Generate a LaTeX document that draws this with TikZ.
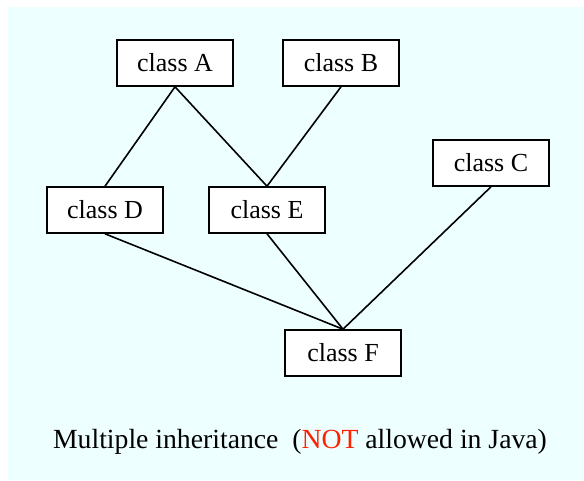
\documentclass[tikz,border=0pt]{standalone}
\usepackage{fontspec}
\setmainfont{Liberation Serif}
\definecolor{bgc}{HTML}{EEFFFF}
\definecolor{redtxt}{HTML}{FF2200}
\begin{document}
\begin{tikzpicture}[x=1pt,y=-1pt,
  cls/.style={draw=black,line width=1.6pt,fill=white,minimum width=116pt,minimum height=46pt,inner sep=0pt,font=\fontsize{26}{30}\selectfont},
  link/.style={line width=1.6pt}]
\useasboundingbox (0,0) rectangle (584,480);
\fill[bgc] (8,7) rectangle (584,480);
\node[cls] (A) at (175,63) {class A};
\node[cls] (B) at (341,63) {class B};
\node[cls] (C) at (491,163) {class C};
\node[cls] (D) at (105,210) {class D};
\node[cls] (E) at (267,210) {class E};
\node[cls] (F) at (343,353) {class F};
\draw[link] (A.south) -- (D.north);
\draw[link] (A.south) -- (E.north);
\draw[link] (B.south) -- (E.north);
\draw[link] (D.south) -- (F.north);
\draw[link] (E.south) -- (F.north);
\draw[link] (C.south) -- (F.north);
\node[anchor=base,inner sep=0pt,font=\fontsize{27.7}{32}\selectfont] (cap) at (300,448) {Multiple inheritance\ \ (\textcolor{redtxt}{NOT} allowed in Java)};
\end{tikzpicture}
\end{document}
